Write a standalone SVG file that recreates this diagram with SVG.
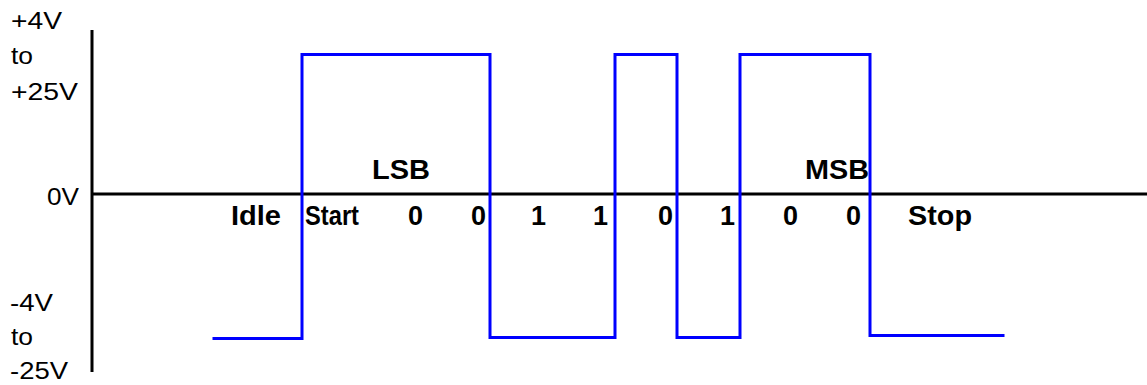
<svg xmlns="http://www.w3.org/2000/svg" width="1147" height="385" viewBox="0 0 1147 385">
<style>
.axis{stroke:#000;stroke-width:3;fill:none}
.wave{stroke:#0000ff;stroke-width:3;fill:none;stroke-linejoin:miter;stroke-linecap:square}
.lv{font-family:"Liberation Sans",Arial,sans-serif;font-size:24px;fill:#000}
.lb{font-family:"Liberation Sans",Arial,sans-serif;font-size:27px;font-weight:bold;fill:#000}
</style>
<rect width="1147" height="385" fill="#fff"/>
<g id="axes">
<line class="axis" x1="92" y1="30" x2="92" y2="372"/>
<line class="axis" x1="92" y1="194" x2="1147" y2="194"/>
</g>
<g id="voltage-labels">
<text class="lv" x="11" y="29" textLength="51" lengthAdjust="spacingAndGlyphs">+4V</text>
<text class="lv" x="11" y="64" textLength="22" lengthAdjust="spacingAndGlyphs">to</text>
<text class="lv" x="11" y="100" textLength="67" lengthAdjust="spacingAndGlyphs">+25V</text>
<text class="lv" x="47" y="205" textLength="32" lengthAdjust="spacingAndGlyphs">0V</text>
<text class="lv" x="10" y="311" textLength="43" lengthAdjust="spacingAndGlyphs">-4V</text>
<text class="lv" x="11" y="345" textLength="22" lengthAdjust="spacingAndGlyphs">to</text>
<text class="lv" x="10" y="379" textLength="58" lengthAdjust="spacingAndGlyphs">-25V</text>
</g>
<g id="waveform">
<path class="wave" d="M214,338.5 H302 V54.5 H490 V337.5 H615 V54.5 H677 V337.5 H740 V54.5 H870 V335.5 H1003"/>
</g>
<g id="bit-labels">
<text class="lb" x="231" y="225" textLength="50" lengthAdjust="spacingAndGlyphs">Idle</text>
<text class="lb" x="305" y="225" textLength="54" lengthAdjust="spacingAndGlyphs">Start</text>
<text class="lb" x="408" y="225">0</text>
<text class="lb" x="471" y="225">0</text>
<text class="lb" x="531" y="225">1</text>
<text class="lb" x="593" y="225">1</text>
<text class="lb" x="658" y="225">0</text>
<text class="lb" x="720" y="225">1</text>
<text class="lb" x="783" y="225">0</text>
<text class="lb" x="846" y="225">0</text>
<text class="lb" x="908" y="225" textLength="64" lengthAdjust="spacingAndGlyphs">Stop</text>
<text class="lb" x="372" y="179" textLength="58" lengthAdjust="spacingAndGlyphs">LSB</text>
<text class="lb" x="805" y="179" textLength="64" lengthAdjust="spacingAndGlyphs">MSB</text>
</g>
</svg>
